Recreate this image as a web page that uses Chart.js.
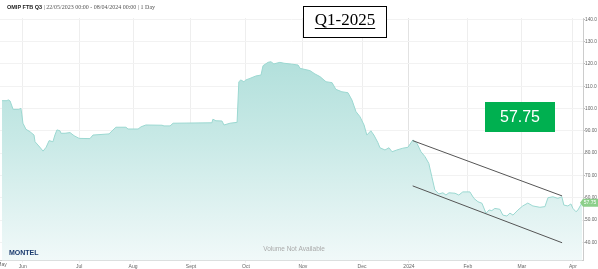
<!DOCTYPE html>
<html><head><meta charset="utf-8">
<script src="https://cdn.jsdelivr.net/npm/chart.js@4"></script>
<style>html,body{margin:0;padding:0;background:#fff;} canvas{display:block;}</style>
</head><body>
<canvas id="c" width="598" height="269"></canvas>
<script>
// trading-session index (0 = 22/05/2023) and settlement price
const sessions = [0,2,2.4,3.2,4.4,6.7,7.5,7.9,8.3,9.5,11.1,12.7,13.1,14.3,16.3,17.5,18.7,20.2,21,21.8,23,23.4,25,27,28.6,30.6,34.9,36.1,42.5,43.7,45.2,49.2,50,54,55.2,57.1,63.5,64.3,66.7,67.9,83.3,83.7,84.9,87.3,88.1,90.5,93.3,94,94.8,96,96.8,98.4,100.8,102.8,103.6,105.6,106.7,107.9,110.3,111.9,114.3,117.5,118.3,122.2,124.2,126.2,128.6,131,132.5,134.9,137.3,138.9,140.5,142.1,143.7,144.8,146.4,147.6,149.2,150,152,153.6,154.8,156.7,159.1,161.1,163.1,164.7,166.3,167.9,169.4,170.6,171.8,173.4,175,176.2,177.4,179.8,181.3,182.9,185.7,187.3,188.9,190.5,192.1,193.3,194.4,195.6,197.6,198.8,200.4,201.6,202.8,204.8,206.7,208.7,210.7,213.5,215.5,216.7,218.7,220.6,222.2,223,224.6,225.8,226.6,227.8,228.6,230.2];
const prices = [103.5,103.5,103.9,103.4,99.6,99.6,100.1,97.1,93.4,90.7,89.6,88.1,85.1,83.6,80.9,82.6,85.6,85.1,88.1,90.4,90,88.9,88.9,89.2,87.8,86.6,86.5,88.1,88.6,90,91.6,91.6,90.8,90.8,91.8,92.6,92.5,92.2,92.2,93.4,93.6,95.2,94.5,94.4,92.6,93.4,93.8,112,112.8,112,112.8,113.5,114.6,115,119.2,120.7,121,120,120.7,120.3,120,119.5,118,117,115.5,114.3,112,111.6,108.6,107.5,107.1,103.8,98.6,96.3,92.6,88.1,90,88.1,84.7,82.4,81.4,82.4,80.6,81.4,82.2,82.6,85.9,84.4,80.6,78.4,75.4,69.4,63.5,61.7,62.2,61.2,62.2,62,61.2,62.6,62.6,59.7,58.2,57.5,53,54.5,54.2,55.2,54.8,52.2,51.8,53.1,52.2,54.5,56.3,57.6,56.3,55.7,56,60,60.4,59.7,60.4,56.7,56.3,57.2,55.2,53.7,54.5,57.75];
const trendX = [163, 222.3];
const upperTrend = [85.6, 60.8];
const lowerTrend = [65.3, 39.8];
const monthPos = [8.2,30.6,52,75,96.8,119.4,142.9,161.5,184.9,206.3,226.6];
const monthLabels = ['Jun','Jul','Aug','Sept','Oct','Nov','Dec','2024','Feb','Mar','Apr'];
const yTicks = [40,50,60,70,80,90,100,110,120,130,140];
const lastPrice = 57.75;

const extras = {
  id:'extras',
  afterDraw(chart){
    const c = chart.ctx, x = chart.scales.x, y = chart.scales.y, a = chart.chartArea;
    c.save();
    c.textBaseline = 'middle';
    // header
    c.fillStyle = '#222'; c.font = 'bold 5.5px "Liberation Sans"';
    c.fillText('OMIP FTB Q3', 7, 7);
    const w = c.measureText('OMIP FTB Q3 ').width;
    c.fillStyle = '#555'; c.font = '6px "Liberation Serif"';
    c.fillText('| 22/05/2023 00:00 - 08/04/2024 00:00 | 1 Day', 7 + w, 7);
    // partial May label at left edge
    c.fillStyle = '#666'; c.font = '5px "Liberation Sans"'; c.textAlign = 'center';
    c.fillText('May', x.getPixelForValue(0), 265);
    // volume note + logo
    c.fillStyle = '#aaa'; c.font = '6.5px "Liberation Sans"';
    c.fillText('Volume Not Available', 294, 249);
    c.textAlign = 'left'; c.fillStyle = '#1b3b6f'; c.font = 'bold 7px "Liberation Sans"';
    c.fillText('MONTEL', 9, 253);
    // last price tag on axis
    const ty = y.getPixelForValue(lastPrice);
    c.fillStyle = '#8ccf8a';
    c.beginPath(); c.moveTo(a.right - 3, ty); c.lineTo(a.right, ty - 4); c.lineTo(598, ty - 4); c.lineTo(598, ty + 4); c.lineTo(a.right, ty + 4); c.closePath(); c.fill();
    c.fillStyle = '#fff'; c.font = '5px "Liberation Sans"'; c.textAlign = 'center';
    c.fillText(lastPrice.toFixed(2), 590, ty);
    // big price box
    c.fillStyle = '#00b050'; c.fillRect(485, 102, 70, 30);
    c.fillStyle = '#fff'; c.font = '16px "Liberation Sans"';
    c.fillText(lastPrice.toFixed(2), 520, 117.5);
    // title box
    c.fillStyle = '#fff'; c.fillRect(303, 6, 83, 31);
    c.strokeStyle = '#000'; c.lineWidth = 1; c.strokeRect(303.5, 6.5, 83, 31);
    c.fillStyle = '#000'; c.font = '17px "Liberation Serif"';
    c.fillText('Q1-2025', 345, 21);
    const tw = c.measureText('Q1-2025').width;
    c.fillRect(345 - tw / 2, 28, tw, 1);
    c.restore();
  }
};

new Chart(document.getElementById('c'), {
  type:'line',
  data:{datasets:[
    {data:trendX.map((v,i)=>({x:v,y:upperTrend[i]})), borderColor:'#555', borderWidth:1, pointRadius:0, fill:false},
    {data:trendX.map((v,i)=>({x:v,y:lowerTrend[i]})), borderColor:'#555', borderWidth:1, pointRadius:0, fill:false},
    {data:sessions.map((v,i)=>({x:v,y:prices[i]})), borderColor:'#9bd8d1', borderWidth:1, pointRadius:0, tension:0, fill:'start',
     backgroundColor:ctx=>{
       const a = ctx.chart.chartArea; if(!a) return 'rgba(170,220,215,0.6)';
       const g = ctx.chart.ctx.createLinearGradient(0, a.top, 0, a.bottom);
       g.addColorStop(0, '#a6dbd6'); g.addColorStop(0.5, '#c8e9e6'); g.addColorStop(1, '#f1f9f9');
       return g;
     }}
  ]},
  options:{
    responsive:false, animation:false, devicePixelRatio:1,
    layout:{padding:{top:18, left:0, right:0, bottom:0}},
    plugins:{legend:{display:false}, tooltip:{enabled:false}},
    scales:{
      x:{type:'linear', min:-0.8, max:230.6,
        afterFit:s=>{ s.height = 8.3; },
        afterBuildTicks:s=>{ s.ticks = monthPos.map(v=>({value:v})); },
        ticks:{autoSkip:false, maxRotation:0, padding:1, color:'#666', font:{size:5, family:'Liberation Sans'},
          callback:(v,i)=>monthLabels[i]},
        grid:{color:c=>c.index===7?'#e2e2e2':'#eeeeee', tickLength:2},
        border:{color:'#cccccc'}},
      y:{position:'right', min:31.75, max:140.58,
        afterFit:s=>{ s.width = 15; },
        afterBuildTicks:s=>{ s.ticks = yTicks.map(v=>({value:v})); },
        ticks:{padding:0, color:'#666', font:{size:4.8, family:'Liberation Sans'}, callback:v=>Number(v).toPrecision(4)},
        grid:{color:'#f2f2f2', tickColor:'#bbbbbb', tickLength:2},
        border:{color:'#cccccc'}}
    }
  },
  plugins:[extras]
});
</script>
</body></html>
